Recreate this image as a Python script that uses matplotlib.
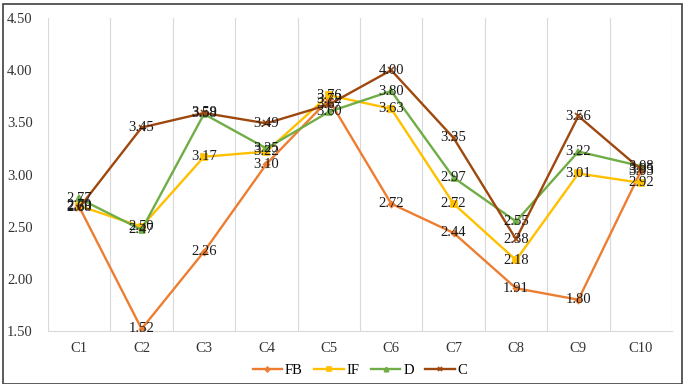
import matplotlib.pyplot as plt
from matplotlib.patches import Rectangle

categories = ["C1", "C2", "C3", "C4", "C5", "C6", "C7", "C8", "C9", "C10"]
fb = [2.69, 1.52, 2.26, 3.10, 3.72, 2.72, 2.44, 1.91, 1.80, 3.03]
if_ = [2.70, 2.50, 3.17, 3.22, 3.76, 3.63, 2.72, 2.18, 3.01, 2.92]
d = [2.77, 2.47, 3.58, 3.25, 3.60, 3.80, 2.97, 2.55, 3.22, 3.08]
c = [2.68, 3.45, 3.59, 3.49, 3.67, 4.00, 3.35, 2.38, 3.56, 3.05]

series = [
    ("FB", fb, "#ED7D31", "D", 3),
    ("IF", if_, "#FFC000", "s", 4),
    ("D", d, "#70AD47", "^", 4),
    ("C", c, "#9E480E", "x", 4),
]

plt.rcParams.update({"font.family": "Liberation Serif", "font.size": 10.5})

fig = plt.figure(figsize=(6.88, 3.84), dpi=100)
ax = fig.add_axes([48 / 688, 1 - 331 / 384, 624 / 688, 313 / 384])

x = list(range(len(categories)))
for name, vals, col, mk, ms in series:
    ax.plot(x, vals, color=col, lw=1.7, marker=mk, ms=ms, mew=1.2, label=name)
for name, vals, col, mk, ms in series:
    for xi, v in zip(x, vals):
        ax.text(xi, v, f"{v:.2f}", ha="center", va="center", fontsize=10.5, color="#1a1a1a")

ax.set_xlim(-0.5, len(categories) - 0.5)
ax.set_ylim(1.5, 4.5)
ax.set_yticks([1.5, 2.0, 2.5, 3.0, 3.5, 4.0, 4.5])
ax.set_yticklabels([f"{t:.2f}" for t in ax.get_yticks()])
ax.set_xticks(x)
ax.set_xticklabels(categories)
ax.set_xticks([i + 0.5 for i in range(-1, len(categories))], minor=True)
ax.grid(True, which="minor", axis="x", color="#d9d9d9", lw=0.8)
ax.tick_params(which="both", length=0)
ax.tick_params(axis="y", pad=11, labelcolor="#333333")
ax.tick_params(axis="x", pad=8, labelcolor="#333333")
for s in ("left", "right", "top"):
    ax.spines[s].set_visible(False)
ax.spines["bottom"].set_color("#d9d9d9")

leg = ax.legend(loc="center", bbox_to_anchor=(0.5, -0.125), ncol=4, frameon=False,
                handlelength=2.0, handletextpad=0.2, columnspacing=0.8, fontsize=10.5,
                markerscale=0.8)

fig.patches.append(Rectangle((0.004, 0.0), 0.988, 0.99, transform=fig.transFigure,
                             fill=False, edgecolor="#404040", lw=1.2))

fig.savefig("out.png", dpi=100)
